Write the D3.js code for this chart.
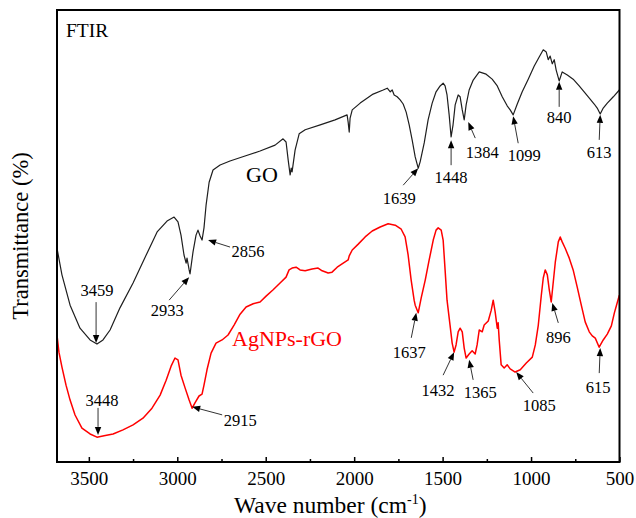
<!DOCTYPE html>
<html>
<head>
<meta charset="utf-8">
<script src="https://cdn.jsdelivr.net/npm/d3@7/dist/d3.min.js"></script>
<style>
  body { margin: 0; background: #fff; }
  svg text { font-family: "Liberation Serif", "Times New Roman", serif; }
</style>
</head>
<body>
<svg width="636" height="518"></svg>
<script>
// GO spectrum (wave number, transmittance in arbitrary %)
var goWave = [3680, 3652, 3606, 3550, 3493, 3454, 3420, 3380, 3324, 3250, 3171, 3114, 3058, 3018, 2996, 2979, 2962, 2950, 2945, 2933,
  2928, 2911, 2894, 2883, 2871, 2860, 2849, 2837, 2820, 2798, 2758, 2702, 2617, 2532, 2447, 2402, 2385, 2373, 2362, 2356,
  2351, 2334, 2311, 2277, 2192, 2108, 2040, 2034, 2028, 2023, 2011, 1966, 1893, 1836, 1813, 1796, 1785, 1774, 1757, 1740,
  1723, 1706, 1689, 1672, 1655, 1638, 1627, 1604, 1582, 1559, 1537, 1514, 1497, 1486, 1475, 1463, 1452, 1441, 1429, 1412,
  1401, 1389, 1378, 1367, 1350, 1327, 1293, 1254, 1220, 1191, 1163, 1135, 1118, 1101, 1078, 1050, 1016, 982, 954, 931,
  914, 903, 892, 880, 869, 858, 841, 824, 795, 762, 728, 694, 666, 643, 626, 609, 592, 569, 535, 501];
var goTrans = [47.3, 41.4, 34.7, 29.6, 27.0, 26.1, 27.0, 29.2, 34.1, 39.6, 46.2, 50.9, 53.3, 54.2, 53.1, 50.2, 45.8, 44.0, 45.1, 42.5,
  41.6, 46.5, 50.2, 51.3, 50.0, 49.1, 51.8, 56.9, 61.9, 64.6, 65.7, 66.6, 67.7, 68.8, 70.1, 71.5, 70.8, 66.8, 63.5, 65.0,
  64.2, 69.0, 72.6, 73.5, 74.6, 75.7, 76.8, 75.2, 73.0, 76.1, 77.9, 79.4, 81.4, 82.3, 82.7, 81.9, 82.3, 81.2, 80.8, 80.1,
  79.2, 77.4, 74.6, 71.2, 67.5, 65.0, 66.4, 70.6, 75.7, 79.4, 81.9, 83.2, 83.8, 83.2, 81.2, 76.8, 71.9, 74.6, 79.0, 81.2,
  80.8, 77.9, 75.7, 79.0, 82.3, 84.5, 86.3, 85.8, 84.7, 83.2, 80.8, 78.8, 77.9, 76.8, 79.2, 81.9, 84.7, 87.6, 89.6, 91.2,
  90.7, 89.0, 89.8, 88.1, 89.0, 86.7, 84.3, 86.3, 85.6, 84.7, 83.2, 81.6, 80.3, 79.2, 78.3, 77.0, 78.3, 79.4, 80.8, 82.3];

// AgNPs-rGO spectrum
var agWave = [3680, 3669, 3652, 3629, 3606, 3578, 3539, 3493, 3454, 3414, 3363, 3307, 3250, 3194, 3143, 3097, 3063, 3035, 3013, 2996,
  2979, 2956, 2933, 2916, 2900, 2877, 2860, 2849, 2832, 2809, 2781, 2747, 2713, 2679, 2645, 2611, 2571, 2532, 2498, 2458,
  2419, 2385, 2368, 2351, 2328, 2306, 2277, 2238, 2204, 2181, 2147, 2125, 2096, 2062, 2034, 2028, 2011, 1977, 1938, 1898,
  1853, 1808, 1768, 1734, 1712, 1695, 1678, 1661, 1655, 1638, 1621, 1598, 1576, 1553, 1537, 1525, 1508, 1497, 1486, 1475,
  1458, 1446, 1435, 1424, 1412, 1401, 1389, 1378, 1367, 1350, 1333, 1316, 1305, 1293, 1276, 1265, 1242, 1225, 1214, 1203,
  1191, 1186, 1180, 1169, 1152, 1135, 1118, 1090, 1061, 1027, 993, 976, 959, 942, 931, 920, 908, 897, 886, 875,
  863, 846, 835, 824, 807, 784, 762, 739, 716, 694, 671, 654, 637, 615, 592, 569, 546, 529, 501];
var agTrans = [28.1, 24.3, 21.0, 17.0, 13.7, 10.4, 7.5, 6.2, 5.5, 5.8, 6.2, 7.1, 8.2, 9.7, 11.9, 14.8, 18.1, 21.2, 23.0, 22.6,
  19.2, 16.4, 13.7, 11.9, 13.1, 14.6, 15.0, 17.0, 20.4, 24.1, 26.3, 27.0, 28.1, 30.3, 32.7, 34.3, 35.0, 35.4, 36.7, 38.1,
  39.6, 40.9, 42.5, 42.9, 43.1, 42.5, 42.3, 42.7, 42.9, 42.3, 41.8, 42.0, 43.1, 44.0, 44.7, 45.6, 46.9, 48.2, 49.8, 51.1,
  52.0, 52.7, 52.4, 51.5, 49.8, 45.8, 40.3, 35.8, 34.7, 33.0, 36.3, 40.3, 44.7, 49.1, 51.3, 51.8, 51.3, 49.1, 42.5, 35.8,
  30.3, 26.3, 24.3, 25.9, 28.8, 29.6, 28.8, 25.2, 23.0, 23.9, 24.6, 23.9, 25.9, 29.2, 28.8, 30.3, 31.2, 33.6, 35.8, 33.2,
  29.6, 30.8, 27.0, 21.5, 20.8, 21.5, 20.6, 19.9, 20.4, 21.9, 23.2, 25.9, 30.3, 36.9, 40.7, 42.5, 41.4, 38.1, 35.4, 39.6,
  44.2, 48.7, 49.8, 48.7, 47.3, 45.1, 42.5, 38.7, 34.7, 31.0, 28.8, 27.9, 27.4, 25.4, 27.0, 28.3, 30.1, 33.0, 36.9];

// peak labels: text and where the arrow points (wave number, transmittance)
var goPeakText = ["3459", "2933", "2856", "1639", "1448", "1384", "1099", "840", "613"];
var goPeakWave = [3459, 2933, 2826, 1638, 1452, 1355, 1101, 841, 609];
var goPeakTrans = [26.3, 40.9, 49.1, 65.0, 71.2, 75.2, 76.5, 84.1, 76.8];
var agPeakText = ["3448", "2915", "1637", "1432", "1365", "1085", "896", "615"];
var agPeakWave = [3448, 2916, 1649, 1435, 1350, 1084, 880, 609];
var agPeakTrans = [6.0, 12.2, 33.0, 24.3, 22.6, 19.9, 35.2, 25.2];

var xTicks = [3500, 3000, 2500, 2000, 1500, 1000, 500];
var xMinorTicks = [3250, 2750, 2250, 1750, 1250, 750];

// label layout: arrow tail offset and text centre offset from the tip (px)
var goLayout = [[0, -41, 1, -53], [-20, 23, -22, 33], [22, 7, 40, 11], [-15, 17, -19, 30], [0, 25, 0, 37],
  [7, 16, 14, 30], [5, 27, 11, 39], [0, 25, 0, 35], [-1, 25, -1, 37]];
var agLayout = [[0, -27, 4, -35], [30, 8, 48, 13], [-5, 25, -7, 39], [-11, 23, -16, 38], [4, 20, 11, 32],
  [17, 21, 23, 33], [6, 20, 6, 34], [-1, 25, -2, 39]];

var svg = d3.select("svg"),
    margin = {top: 10, right: 16.5, bottom: 56, left: 57},
    width = +svg.attr("width"),
    height = +svg.attr("height");

var x = d3.scaleLinear()
    .domain([3680, 500])
    .range([margin.left, width - margin.right]);

var y = d3.scaleLinear()
    .domain([0, 100])
    .range([height - margin.bottom, margin.top]);

var line = d3.line()
    .x(function(d) { return x(d[0]); })
    .y(function(d) { return y(d[1]); });

var goData = d3.zip(goWave, goTrans);
var agData = d3.zip(agWave, agTrans);

svg.append("path")
    .datum(goData)
    .attr("fill", "none")
    .attr("stroke", "#1e1e1e")
    .attr("stroke-width", 1.2)
    .attr("stroke-linejoin", "round")
    .attr("d", line);

svg.append("path")
    .datum(agData)
    .attr("fill", "none")
    .attr("stroke", "#ff0000")
    .attr("stroke-width", 1.5)
    .attr("stroke-linejoin", "round")
    .attr("d", line);

// axes
svg.append("g")
    .attr("class", "x axis")
    .attr("transform", "translate(0," + (height - margin.bottom) + ")")
    .call(d3.axisBottom(x).tickValues(xTicks).tickFormat(d3.format("d"))
      .tickSizeInner(-5).tickSizeOuter(0).tickPadding(10))
    .call(function(g) {
      g.select(".domain").remove();
      g.selectAll(".tick line").attr("stroke", "#000").attr("stroke-width", 1.5);
      g.selectAll(".tick text").attr("font-size", 19).attr("fill", "#000")
        .style("font-family", '"Liberation Serif", serif');
    });

svg.append("g")
    .attr("transform", "translate(0," + (height - margin.bottom) + ")")
    .call(d3.axisBottom(x).tickValues(xMinorTicks).tickSizeInner(-3).tickSizeOuter(0).tickFormat(""))
    .call(function(g) {
      g.select(".domain").remove();
      g.selectAll(".tick line").attr("stroke", "#000").attr("stroke-width", 1.5);
    });

// frame
svg.append("rect")
    .attr("x", margin.left)
    .attr("y", margin.top)
    .attr("width", width - margin.left - margin.right)
    .attr("height", height - margin.top - margin.bottom)
    .attr("fill", "none")
    .attr("stroke", "#000")
    .attr("stroke-width", 2);

// peak arrows
function drawPeaks(texts, waves, trans, layout) {
  texts.forEach(function(t, i) {
    var tx = x(waves[i]), ty = y(trans[i]);
    var o = layout[i];
    var sx = tx + o[0], sy = ty + o[1];
    var len = Math.sqrt(o[0] * o[0] + o[1] * o[1]);
    var ux = -o[0] / len, uy = -o[1] / len;
    var hl = 8, hw = 3.2;
    var bx = tx - ux * hl, by = ty - uy * hl;
    svg.append("line")
        .attr("x1", sx).attr("y1", sy)
        .attr("x2", bx).attr("y2", by)
        .attr("stroke", "#333")
        .attr("stroke-width", 1);
    svg.append("path")
        .attr("d", "M" + tx + "," + ty +
          "L" + (bx - uy * hw) + "," + (by + ux * hw) +
          "L" + (bx + uy * hw) + "," + (by - ux * hw) + "Z")
        .attr("fill", "#000");
    svg.append("text")
        .attr("x", tx + o[2])
        .attr("y", ty + o[3] + 6)
        .attr("text-anchor", "middle")
        .attr("font-size", 16.5)
        .attr("fill", "#000")
        .text(t);
  });
}
drawPeaks(goPeakText, goPeakWave, goPeakTrans, goLayout);
drawPeaks(agPeakText, agPeakWave, agPeakTrans, agLayout);

// labels
svg.append("text")
    .attr("x", 66).attr("y", 37)
    .attr("font-size", 19.5)
    .text("FTIR");

svg.append("text")
    .attr("x", 246).attr("y", 182)
    .attr("font-size", 22)
    .text("GO");

svg.append("text")
    .attr("x", 232).attr("y", 346)
    .attr("font-size", 22)
    .attr("fill", "#ff0000")
    .text("AgNPs-rGO");

var xt = svg.append("text")
    .attr("x", (margin.left + width - margin.right) / 2 - 8)
    .attr("y", 513)
    .attr("text-anchor", "middle")
    .attr("font-size", 23.5)
    .text("Wave number (cm");
xt.append("tspan").attr("font-size", 14).attr("dy", -9).text("-1");
xt.append("tspan").attr("dy", 9).text(")");

svg.append("text")
    .attr("transform", "translate(28," + ((margin.top + height - margin.bottom) / 2) + ") rotate(-90)")
    .attr("text-anchor", "middle")
    .attr("font-size", 22.5)
    .text("Transmittance (%)");
</script>
</body>
</html>
